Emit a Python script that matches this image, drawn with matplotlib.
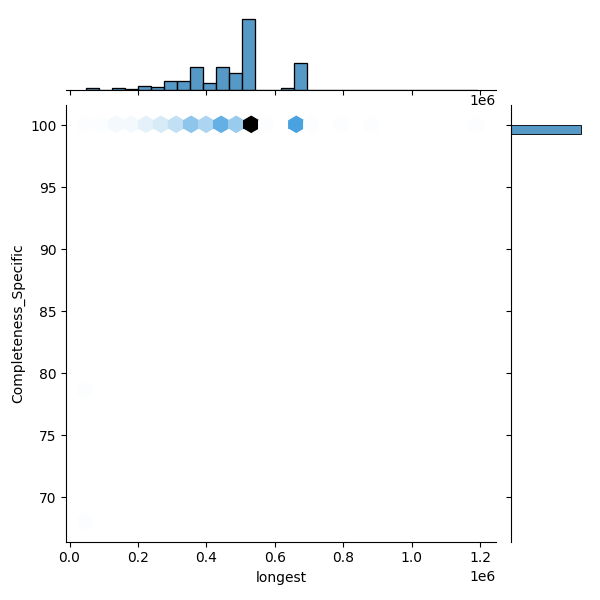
import matplotlib
matplotlib.use("Agg")
import matplotlib.pyplot as plt
import numpy as np
import pandas as pd
import seaborn as sns

# assemblies at 100 % completeness: longest contig value and how many share it
full_longest = [67000, 100000, 135000, 160000, 185000, 220000, 260000, 285000,
                300000, 325000, 345000, 365000, 383000, 405000, 424000, 445000,
                485000, 523000, 560000, 645000, 670000, 705000, 794000, 882000,
                1189000]
full_counts = [1, 1, 3, 1, 2, 7, 5, 5,
               8, 7, 6, 22, 13, 7, 3, 35,
               25, 106, 1, 4, 40, 1, 1, 1,
               1]

# the few incomplete ones
low_longest = [48000, 48000]
low_completeness = [78.6, 68.0]

longest = np.concatenate([np.repeat(full_longest, full_counts), low_longest])
completeness = np.concatenate([np.full(sum(full_counts), 100.0), low_completeness])
df = pd.DataFrame({"longest": longest, "Completeness_Specific": completeness})

g = sns.JointGrid(data=df, x="longest", y="Completeness_Specific", height=6)
color = "C0"
rgb = matplotlib.colors.to_rgb(color)
cmap = sns.blend_palette([sns.utils.set_hls_values(rgb, l=l) for l in np.linspace(1, 0, 12)],
                         as_cmap=True)
g.ax_joint.hexbin(df["longest"], df["Completeness_Specific"], gridsize=26, cmap=cmap)
sns.histplot(x=df["longest"], bins=30, ax=g.ax_marg_x, color=color)
sns.histplot(y=df["Completeness_Specific"], bins=46, ax=g.ax_marg_y, color=color)

g.fig.savefig("out.png", dpi=100)
